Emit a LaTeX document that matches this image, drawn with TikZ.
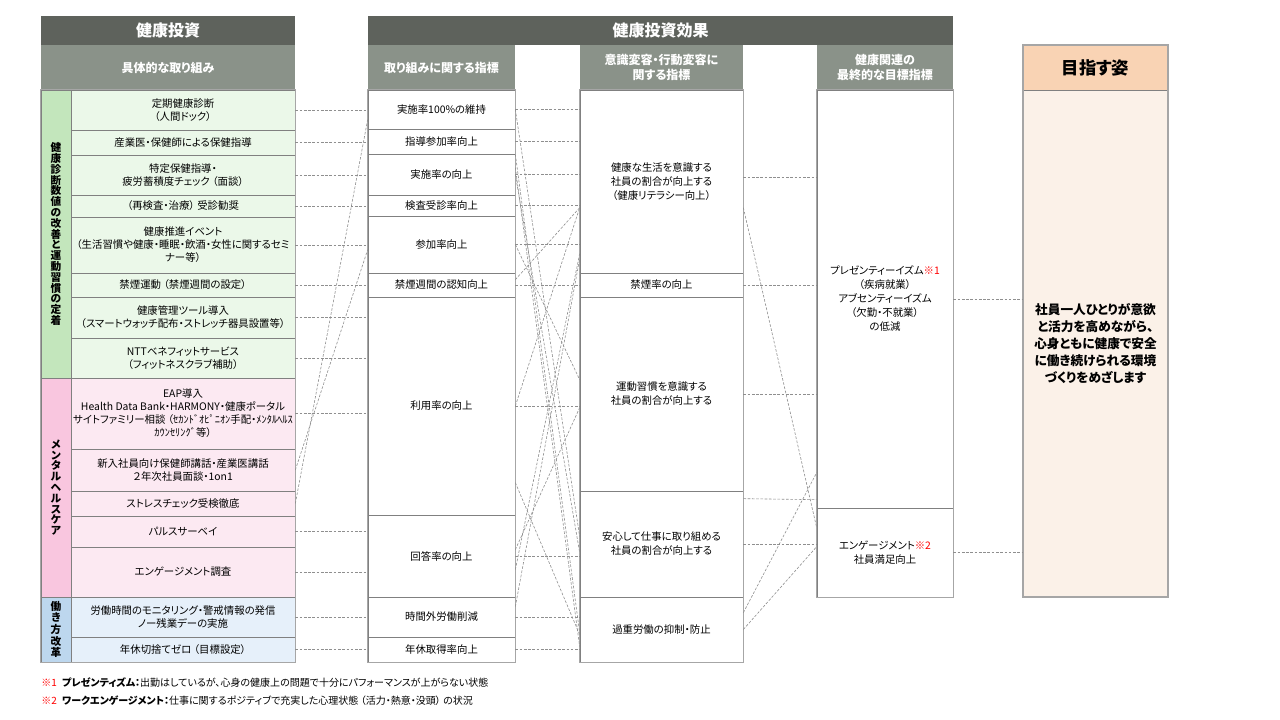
\documentclass[tikz,border=0pt]{standalone}
\usepackage{fontspec}
\setmainfont{Noto Sans CJK JP}[RawFeature=+palt]
\usetikzlibrary{fit,calc}
\definecolor{hdrdark}{HTML}{5E625C}
\definecolor{hdrlight}{HTML}{8A9289}
\definecolor{catgreen}{HTML}{C3E6BC}
\definecolor{itemgreen}{HTML}{EBF8E9}
\definecolor{catpink}{HTML}{F9C6DF}
\definecolor{itempink}{HTML}{FCE9F2}
\definecolor{catblue}{HTML}{BDD7EE}
\definecolor{itemblue}{HTML}{E6F0FA}
\definecolor{goalhdr}{HTML}{F9D3B4}
\definecolor{goalbody}{HTML}{FBF1E8}
\definecolor{framecol}{HTML}{A6A6A6}
\definecolor{sepcol}{HTML}{808080}
\definecolor{conncol}{HTML}{8F8F8F}
\definecolor{notered}{HTML}{FF0000}
% name, x1, y1, x2, y2, shape style, text style, text
\newcommand\bx[8]{%
  \node[inner sep=0pt,#6,fit={(#2,#3) (#4,#5)}] (#1) {};%
  \node[inner sep=0pt,anchor=center,#7] (#1t) at (#1.center) {#8};}
\newcommand\ps{\hspace{0.25em}}
\begin{document}
\begin{tikzpicture}[x=0.75pt,y=-0.75pt,
  hdr/.style={fill=hdrdark},
  hdrtx/.style={text=white,font=\bfseries\fontsize{12}{14}\selectfont},
  subhdr/.style={fill=hdrlight},
  subtx/.style={text=white,align=center,font=\bfseries\fontsize{9}{11.25}\selectfont},
  cellbase/.style={draw=sepcol,line width=0.5pt},
  celltx/.style={align=center,font=\fontsize{7.8}{9.75}\selectfont},
  cellg/.style={cellbase,fill=itemgreen},
  cellp/.style={cellbase,fill=itempink},
  cellb/.style={cellbase,fill=itemblue},
  cattx/.style={align=center,font=\bfseries\fontsize{8}{8.1}\selectfont},
  cattxb/.style={align=center,font=\bfseries\fontsize{8}{8.7}\selectfont},
  catg/.style={cellbase,fill=catgreen},
  catp/.style={cellbase,fill=catpink},
  catb/.style={cellbase,fill=catblue},
  ind/.style={draw=sepcol,line width=0.5pt,fill=white},
  indtx/.style={align=center,font=\fontsize{7.8}{10.5}\selectfont},
  goalh/.style={fill=goalhdr},
  goalhtx/.style={font=\bfseries\fontsize{13}{15}\selectfont},
  goalb/.style={fill=goalbody},
  goalbtx/.style={align=center,font=\bfseries\fontsize{9.5}{12.75}\selectfont},
  frameline/.style={draw=framecol,line width=1.2pt},
  conn/.style={draw=conncol,line width=0.45pt,dash pattern=on 2pt off 1.2pt},
  note/.style={anchor=west,inner sep=0pt,font=\fontsize{7.5}{8.5}\selectfont}]
\useasboundingbox (0,0) rectangle (1280,720);
\fill[white] (0,0) rectangle (1280,720);

% ---- left block
\bx{hdrL}{41}{16}{295}{45}{hdr}{hdrtx}{健康投資}
\bx{subL}{41}{45}{295}{90}{subhdr}{subtx}{具体的な取り組み}
\bx{cat1}{41}{90}{71}{378}{catg}{cattx}{健\\康\\診\\断\\数\\値\\の\\改\\善\\と\\運\\動\\習\\慣\\の\\定\\着}
\bx{cat2}{41}{378}{71}{597}{catp}{cattx}{メ\\ン\\タ\\ル\\ヘ\\ル\\ス\\ケ\\ア}
\bx{cat3}{41}{597}{71}{662}{catb}{cattxb}{働\\き\\方\\改\\革}
\bx{l1}{71}{90}{295}{130}{cellg}{celltx}{定期健康診断\\（人間ドック）}
\bx{l2}{71}{130}{295}{155}{cellg}{celltx}{産業医・保健師による保健指導}
\bx{l3}{71}{155}{295}{195}{cellg}{celltx}{特定保健指導・\\疲労蓄積度チェック\ps（面談）}
\bx{l4}{71}{195}{295}{217}{cellg}{celltx}{（再検査・治療）\ps 受診勧奨}
\bx{l5}{71}{217}{295}{273}{cellg}{celltx}{健康推進イベント\\（生活習慣や健康・睡眠・飲酒・女性に関するセミ\\ナー等）}
\bx{l6}{71}{273}{295}{297}{cellg}{celltx}{禁煙運動\ps（禁煙週間の設定）}
\bx{l7}{71}{297}{295}{338}{cellg}{celltx}{健康管理ツール導入\\（スマートウォッチ配布・ストレッチ器具設置等）}
\bx{l8}{71}{338}{295}{378}{cellg}{celltx}{NTTベネフィットサービス\\（フィットネスクラブ補助）}
\bx{l9}{71}{378}{295}{449}{cellp}{celltx}{EAP導入\\Health Data Bank・HARMONY・健康ポータル\\サイトファミリー相談\ps（ｾｶﾝﾄﾞｵﾋﾟﾆｵﾝ手配・ﾒﾝﾀﾙﾍﾙｽ\\ｶｳﾝｾﾘﾝｸﾞ等）}
\bx{l10}{71}{449}{295}{491}{cellp}{celltx}{新入社員向け保健師講話・産業医講話\\２年次社員面談・1on1}
\bx{l11}{71}{491}{295}{516}{cellp}{celltx}{ストレスチェック受検徹底}
\bx{l12}{71}{516}{295}{547}{cellp}{celltx}{パルスサーベイ}
\bx{l13}{71}{547}{295}{597}{cellp}{celltx}{エンゲージメント調査}
\bx{l14}{71}{597}{295}{637}{cellb}{celltx}{労働時間のモニタリング・警戒情報の発信\\ノー残業デーの実施}
\bx{l15}{71}{637}{295}{662}{cellb}{celltx}{年休切捨てゼロ\ps（目標設定）}
\draw[frameline] (cat1.north west) rectangle (l15.south east);

% ---- effect headers
\bx{hdrE}{368}{16}{953}{45}{hdr}{hdrtx}{健康投資効果}
\bx{sub2}{368}{45}{515}{90}{subhdr}{subtx}{取り組みに関する指標}
\bx{sub3}{580}{45}{743}{90}{subhdr}{subtx}{意識変容・行動変容に\\関する指標}
\bx{sub4}{817}{45}{953}{90}{subhdr}{subtx}{健康関連の\\最終的な目標指標}

% ---- column 2
\bx{a}{368}{90}{515}{129}{ind}{indtx}{実施率100\%の維持}
\bx{b}{368}{129}{515}{154}{ind}{indtx}{指導参加率向上}
\bx{c}{368}{154}{515}{195}{ind}{indtx}{実施率の向上}
\bx{d}{368}{195}{515}{216}{ind}{indtx}{検査受診率向上}
\bx{e}{368}{216}{515}{273}{ind}{indtx}{参加率向上}
\bx{f}{368}{273}{515}{297}{ind}{indtx}{禁煙週間の認知向上}
\bx{g}{368}{297}{515}{515}{ind}{indtx}{利用率の向上}
\bx{h}{368}{515}{515}{597}{ind}{indtx}{回答率の向上}
\bx{i}{368}{597}{515}{637}{ind}{indtx}{時間外労働削減}
\bx{j}{368}{637}{515}{662}{ind}{indtx}{年休取得率向上}
\draw[frameline] (a.north west) rectangle (j.south east);

% ---- column 3
\bx{A}{580}{90}{743}{273}{ind}{indtx}{健康な生活を意識する\\社員の割合が向上する\\（健康リテラシー向上）}
\bx{B}{580}{273}{743}{297}{ind}{indtx}{禁煙率の向上}
\bx{C}{580}{297}{743}{491}{ind}{indtx}{運動習慣を意識する\\社員の割合が向上する}
\bx{D}{580}{491}{743}{597}{ind}{indtx}{安心して仕事に取り組める\\社員の割合が向上する}
\bx{E}{580}{597}{743}{662}{ind}{indtx}{過重労働の抑制・防止}
\draw[frameline] (A.north west) rectangle (E.south east);

% ---- column 4
\bx{P}{817}{90}{953}{508}{ind}{indtx}{プレゼンティーイズム\textcolor{notered}{※1}\\（疾病就業）\\アブセンティーイズム\\（欠勤・不就業）\\の低減}
\bx{Q}{817}{508}{953}{597}{ind}{indtx}{エンゲージメント\textcolor{notered}{※2}\\社員満足向上}
\draw[frameline] (P.north west) rectangle (Q.south east);

% ---- goal
\bx{sub5}{1023}{45}{1168}{90}{goalh}{goalhtx}{目指す姿}
\bx{goal}{1023}{90}{1168}{597}{goalb}{goalbtx}{社員一人ひとりが意欲\\と活力を高めながら、\\心身ともに健康で安全\\に働き続けられる環境\\づくりをめざします}
\draw[draw=sepcol,line width=0.6pt] (sub5.south west) -- (sub5.south east);
\draw[frameline] (sub5.north west) rectangle (goal.south east);

% ---- connectors: left -> indicators
\foreach \s/\t in {l1/a,l2/b,l3/c,l4/d,l5/e,l6/f,l7/g,l8/g,l9/g,l12/h,l13/h,l14/i,l15/j}
  \draw[conn] (\s.east) -- (\s.east -| \t.west);
\draw[conn] (l10.east) -- ($(e.north west)+(0,34)$);
\draw[conn] (l11.east) -- ($(a.north west)+(0,30)$);

% ---- indicators -> behaviour change
\foreach \s/\t in {a/A,b/A,c/A,d/A,e/A,f/B,g/C,h/D,i/E,j/E}
  \draw[conn] (\s.east) -- (\s.east -| \t.west);
\draw[conn] (a.east) -- ($(D.north west)+(0,46)$);
\draw[conn] (b.south east) -- ($(E.north west)+(0,36)$);
\draw[conn] ($(c.north east)+(0,14)$) -- ($(E.north west)+(0,50)$);
\draw[conn] (c.east) -- ($(D.north west)+(0,62)$);
\draw[conn] (e.east) -- ($(C.north west)+(0,83)$);
\draw[conn] ($(f.north east)+(0,7)$) -- ($(A.north west)+(0,118)$);
\draw[conn] (g.east) -- ($(A.north west)+(0,118)$);
\draw[conn] ($(g.north east)+(0,186)$) -- ($(E.north west)+(0,38)$);
\draw[conn] ($(h.north east)+(0,35)$) -- ($(C.north west)+(0,111)$);
\draw[conn] ($(h.north east)+(0,55)$) -- ($(A.north west)+(0,164)$);
\draw[conn] ($(i.north east)+(0,10)$) -- ($(A.north west)+(0,169)$);

% ---- behaviour change -> final indicators
\draw[conn] ($(A.north east)+(0,88)$) -- ($(P.north west)+(0,88)$);
\draw[conn] ($(A.north east)+(0,118)$) -- ($(Q.north west)+(0,20)$);
\draw[conn] (B.east) -- (B.east -| P.west);
\draw[conn] (C.east) -- (C.east -| P.west);
\draw[conn] ($(D.north east)+(0,8)$) -- ($(P.north west)+(0,410)$);
\draw[conn] (D.east) -- (D.east -| Q.west);
\draw[conn] ($(E.north east)+(0,16)$) -- ($(P.north west)+(0,383)$);
\draw[conn] (E.east) -- ($(Q.north west)+(0,39)$);

% ---- final -> goal
\draw[conn] (P.east) -- (P.east -| goal.west);
\draw[conn] (Q.east) -- (Q.east -| goal.west);

% ---- footnotes
\node[note] (fn1) at (41,683) {\textcolor{notered}{※1}\hspace{4pt}{\bfseries プレゼンティズム：}出勤はしているが、心身の健康上の問題で十分にパフォーマンスが上がらない状態};
\node[note] (fn2) at (41,701) {\textcolor{notered}{※2}\hspace{4pt}{\bfseries ワークエンゲージメント：}仕事に関するポジティブで充実した心理状態\ps（活力・熱意・没頭）\ps の状況};
\end{tikzpicture}
\end{document}
